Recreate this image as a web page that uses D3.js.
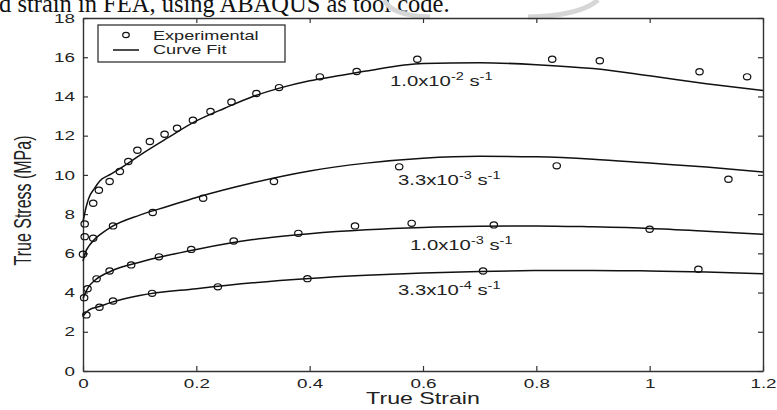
<!DOCTYPE html>
<html>
<head>
<meta charset="utf-8">
<script src="https://cdn.jsdelivr.net/npm/d3@7"></script>
<style>
  html, body { margin: 0; padding: 0; background: #fff; }
  svg { display: block; }
</style>
</head>
<body>
<div id="chart"></div>
<script>
// Strain-rate series, values: [true strain, true stress (MPa)]
const rateLabels = [
    { base: "1.0x10", exp: "-2", x: 390, y: 86 },
    { base: "3.3x10", exp: "-3", x: 398, y: 185 },
    { base: "1.0x10", exp: "-3", x: 410, y: 250 },
    { base: "3.3x10", exp: "-4", x: 398, y: 295 }
];

const experimental1 = [[0.003, 7.5], [0.018, 8.55], [0.028, 9.22], [0.047, 9.66], [0.065, 10.17],
    [0.08, 10.68], [0.096, 11.26], [0.118, 11.7], [0.144, 12.07], [0.166, 12.38], [0.194, 12.79],
    [0.225, 13.23], [0.262, 13.72], [0.306, 14.15], [0.346, 14.45], [0.418, 15.0], [0.483, 15.27],
    [0.59, 15.9], [0.828, 15.9], [0.912, 15.82], [1.088, 15.26], [1.172, 15.0]];
const experimental2 = [[0, 5.95], [0.003, 6.85], [0.018, 6.77], [0.053, 7.4], [0.123, 8.08],
    [0.212, 8.81], [0.337, 9.66], [0.558, 10.41], [0.836, 10.46], [1.139, 9.78]];
const experimental3 = [[0.002, 3.74], [0.008, 4.2], [0.024, 4.7], [0.047, 5.1], [0.085, 5.41],
    [0.134, 5.82], [0.191, 6.2], [0.266, 6.63], [0.38, 7.02], [0.48, 7.4], [0.58, 7.53],
    [0.725, 7.45], [1.0, 7.23]];
const experimental4 = [[0.006, 2.86], [0.029, 3.25], [0.053, 3.57], [0.122, 3.96], [0.238, 4.29],
    [0.396, 4.71], [0.706, 5.1], [1.086, 5.19]];

const fit1 = [[0, 7.6], [0.005, 8.3], [0.01, 8.8], [0.02, 9.3], [0.03, 9.7], [0.05, 10.05],
    [0.08, 10.6], [0.1, 11.0], [0.15, 11.9], [0.2, 12.75], [0.25, 13.4], [0.3, 14.0], [0.35, 14.45],
    [0.4, 14.8], [0.45, 15.05], [0.5, 15.3], [0.6, 15.68], [0.7, 15.72], [0.8, 15.62], [0.9, 15.42],
    [1.0, 15.05], [1.1, 14.65], [1.2, 14.3]];
const fit2 = [[0, 5.6], [0.005, 6.1], [0.01, 6.35], [0.02, 6.7], [0.03, 6.95], [0.05, 7.35],
    [0.1, 7.95], [0.15, 8.4], [0.2, 8.85], [0.3, 9.6], [0.4, 10.2], [0.5, 10.6], [0.6, 10.85],
    [0.7, 10.95], [0.8, 10.92], [0.9, 10.8], [1.0, 10.6], [1.1, 10.4], [1.2, 10.15]];
const fit3 = [[0, 3.7], [0.01, 4.3], [0.02, 4.6], [0.05, 5.1], [0.1, 5.55], [0.15, 5.9], [0.2, 6.2],
    [0.3, 6.7], [0.4, 7.0], [0.5, 7.2], [0.6, 7.32], [0.7, 7.38], [0.8, 7.4], [0.9, 7.35],
    [1.0, 7.27], [1.1, 7.13], [1.2, 6.97]];
const fit4 = [[0, 2.8], [0.01, 3.1], [0.03, 3.3], [0.05, 3.5], [0.1, 3.85], [0.2, 4.2], [0.3, 4.5],
    [0.4, 4.72], [0.5, 4.88], [0.6, 5.0], [0.7, 5.08], [0.8, 5.12], [0.9, 5.13], [1.0, 5.1],
    [1.1, 5.05], [1.2, 4.96]];

const experimentalSets = [experimental1, experimental2, experimental3, experimental4];
const fitSets = [fit1, fit2, fit3, fit4];

const xTicks = [0, 0.2, 0.4, 0.6, 0.8, 1, 1.2];
const yTicks = [0, 2, 4, 6, 8, 10, 12, 14, 16, 18];

const width = 777, height = 410;
// the figure is stretched sideways in the source, so text gets the same squeeze
const stretch = 1.45;
const ink = "#222";

const svg = d3.select("#chart").append("svg")
    .attr("width", width)
    .attr("height", height)
    .style("font-family", "Arial, 'Liberation Sans', sans-serif");

// caption line cut off at the top of the page
svg.append("text")
    .attr("x", -1)
    .attr("y", 12)
    .style("font-family", "'Liberation Serif', 'Times New Roman', serif")
    .style("font-size", "24.5px")
    .attr("fill", "#111")
    .text("d strain in FEA, using ABAQUS as tool code.");

// faint watermark strokes behind the caption
svg.append("path")
    .attr("d", "M384,0 Q392,16 430,17 M528,17 Q580,16 598,0")
    .attr("fill", "none")
    .attr("stroke", "#d6d6d6")
    .attr("stroke-width", 5);

const x = d3.scaleLinear().domain([0, 1.2]).range([83, 763]);
const y = d3.scaleLinear().domain([0, 18]).range([371, 18]);

function styleAxis(g) {
    g.select(".domain").attr("stroke", "#333").attr("stroke-width", 1.4);
    g.selectAll(".tick line").attr("stroke", "#333").attr("stroke-width", 1.2);
    g.selectAll(".tick text").attr("fill", ink).style("font-size", "13px");
}

const bottom = svg.append("g")
    .attr("transform", `translate(0,${y(0)})`)
    .call(d3.axisBottom(x).tickValues(xTicks).tickFormat(d3.format("~g"))
        .tickSize(-5).tickPadding(8).tickSizeOuter(0))
    .call(styleAxis);
bottom.selectAll(".tick text").attr("transform", `scale(${stretch},1)`);

const left = svg.append("g")
    .attr("transform", `translate(${x(0)},0)`)
    .call(d3.axisLeft(y).tickValues(yTicks).tickSize(-5).tickPadding(0).tickSizeOuter(0))
    .call(styleAxis);
left.selectAll(".tick text")
    .attr("x", -8 / stretch)
    .attr("transform", `scale(${stretch},1)`);

svg.append("g")
    .attr("transform", `translate(0,${y(18)})`)
    .call(d3.axisTop(x).tickValues(xTicks).tickSize(-5).tickFormat("").tickSizeOuter(0))
    .call(styleAxis);

svg.append("g")
    .attr("transform", `translate(${x(1.2)},0)`)
    .call(d3.axisRight(y).tickValues(yTicks).tickSize(-5).tickFormat("").tickSizeOuter(0))
    .call(styleAxis);

// axis titles
svg.append("text")
    .attr("transform", `translate(${x(0.6)},404) scale(${stretch},1)`)
    .attr("text-anchor", "middle")
    .attr("fill", ink)
    .style("font-size", "16px")
    .text("True Strain");

svg.append("text")
    .attr("transform", `translate(31,${y(9) + 6}) rotate(-90) scale(1,${stretch})`)
    .attr("text-anchor", "middle")
    .attr("fill", ink)
    .style("font-size", "16px")
    .text("True Stress (MPa)");

// fitted curves
const line = d3.line()
    .x(d => x(d[0]))
    .y(d => y(d[1]))
    .curve(d3.curveMonotoneX);

svg.append("g").selectAll("path")
    .data(fitSets)
    .join("path")
    .attr("d", line)
    .attr("fill", "none")
    .attr("stroke", "#111")
    .attr("stroke-width", 1.5);

// experimental points
svg.append("g").selectAll("g")
    .data(experimentalSets)
    .join("g")
    .selectAll("ellipse")
    .data(d => d)
    .join("ellipse")
    .attr("cx", d => x(d[0]))
    .attr("cy", d => y(d[1]))
    .attr("rx", 3.7)
    .attr("ry", 3.1)
    .attr("fill", "none")
    .attr("stroke", "#111")
    .attr("stroke-width", 1.2);

// strain-rate labels with superscripts
const labels = svg.append("g").selectAll("text")
    .data(rateLabels)
    .join("text")
    .attr("transform", d => `translate(${d.x},${d.y}) scale(${stretch},1)`)
    .attr("fill", ink)
    .style("font-size", "14px");
labels.append("tspan").text(d => d.base);
labels.append("tspan").attr("dy", -6).style("font-size", "10px").text(d => d.exp);
labels.append("tspan").attr("dy", 6).text(" s");
labels.append("tspan").attr("dy", -6).style("font-size", "10px").text("-1");

// legend
const legend = svg.append("g");
legend.append("rect")
    .attr("x", 98).attr("y", 25)
    .attr("width", 187).attr("height", 37)
    .attr("fill", "#fff")
    .attr("stroke", "#333")
    .attr("stroke-width", 1.3);
legend.append("ellipse")
    .attr("cx", 126).attr("cy", 35)
    .attr("rx", 3.3).attr("ry", 2.7)
    .attr("fill", "none").attr("stroke", "#111").attr("stroke-width", 1.2);
legend.append("line")
    .attr("x1", 113).attr("x2", 139)
    .attr("y1", 50).attr("y2", 50)
    .attr("stroke", "#111").attr("stroke-width", 1.5);
legend.selectAll("text.entry")
    .data(["Experimental", "Curve Fit"])
    .join("text")
    .attr("class", "entry")
    .attr("transform", (d, i) => `translate(153,${40 + i * 14}) scale(${stretch},1)`)
    .attr("fill", ink)
    .style("font-size", "12.5px")
    .text(d => d);
</script>
</body>
</html>
